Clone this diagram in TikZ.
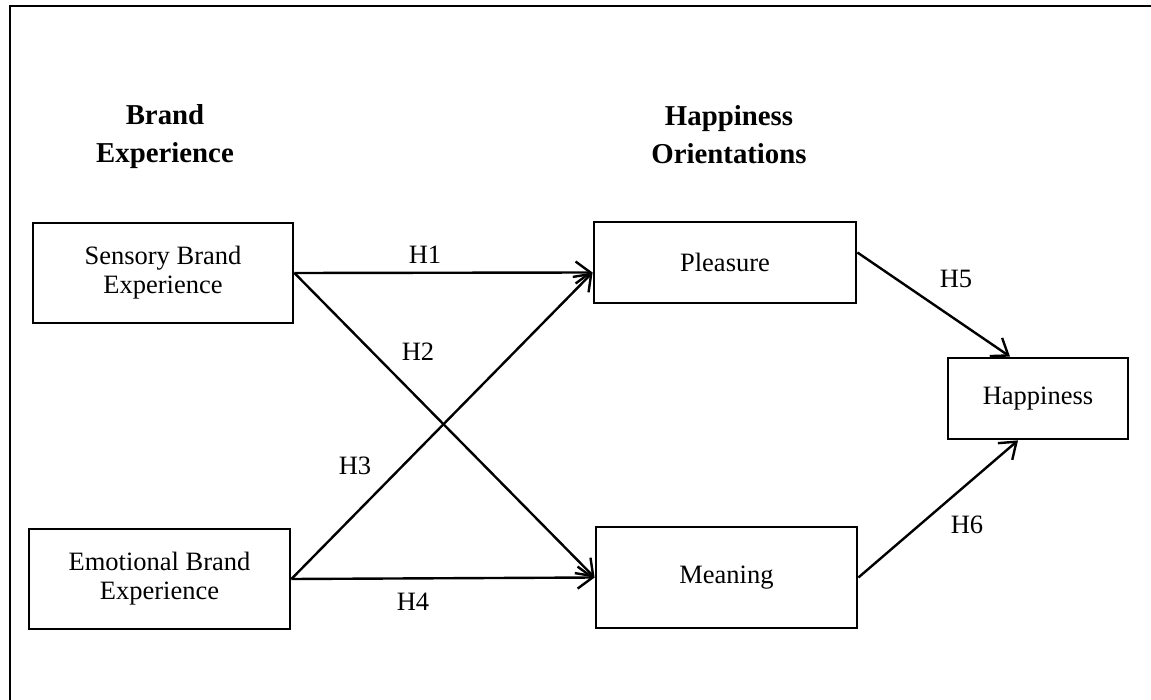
\documentclass[tikz,border=0pt]{standalone}
\usepackage{fontspec}
\setmainfont{Liberation Serif}
\usetikzlibrary{arrows.meta}
\begin{document}
\begin{tikzpicture}[x=1pt,y=-1pt,
  box/.style={draw,line width=2.8pt,rectangle,inner sep=0pt,align=center,
    font=\fontsize{26.5}{29}\selectfont},
  head/.style={align=center,inner sep=0pt,font=\fontsize{28.8}{38}\selectfont\bfseries},
  lab/.style={inner sep=0pt,font=\fontsize{26.5}{29}\selectfont},
  conn/.style={line width=2.4pt,-{Straight Barb[length=15pt,width=22pt,line width=2.4pt]}}]
\useasboundingbox (0,0) rectangle (1151,700);
\draw[line width=2.8pt] (10,700) -- (10,6) -- (1151,6);

\node[head] (hbe) at (165,137) {Brand\\Experience};
\node[head] (hho) at (729,135) {Happiness\\Orientations};

\node[box,minimum width=260pt,minimum height=100pt] (sens) at (163,273) {Sensory Brand\\Experience};
\node[box,minimum width=261pt,minimum height=100pt] (emo) at (159.5,579) {Emotional Brand\\Experience};
\node[box,minimum width=262pt,minimum height=81pt] (pleas) at (725,262.5) {Pleasure};
\node[box,minimum width=261pt,minimum height=101pt] (mean) at (726.5,577.5) {Meaning};
\node[box,minimum width=180pt,minimum height=81pt] (happ) at (1038,398.5) {Happiness};

\draw[conn] (sens.east) -- ([yshift=-10pt]pleas.west);
\draw[conn] (sens.east) -- (mean.west);
\draw[conn] (emo.east) -- ([yshift=-10pt]pleas.west);
\draw[conn] (emo.east) -- (mean.west);
\draw[conn] ([yshift=10pt]pleas.east) -- ([xshift=-28pt]happ.north);
\draw[conn] (mean.east) -- ([xshift=-20pt]happ.south);

\node[lab] (l1) at (425,255) {H1};
\node[lab] (l2) at (418,352) {H2};
\node[lab] (l3) at (355,466) {H3};
\node[lab] (l4) at (413,602) {H4};
\node[lab] (l5) at (956,279) {H5};
\node[lab] (l6) at (967,525) {H6};
\end{tikzpicture}
\end{document}
